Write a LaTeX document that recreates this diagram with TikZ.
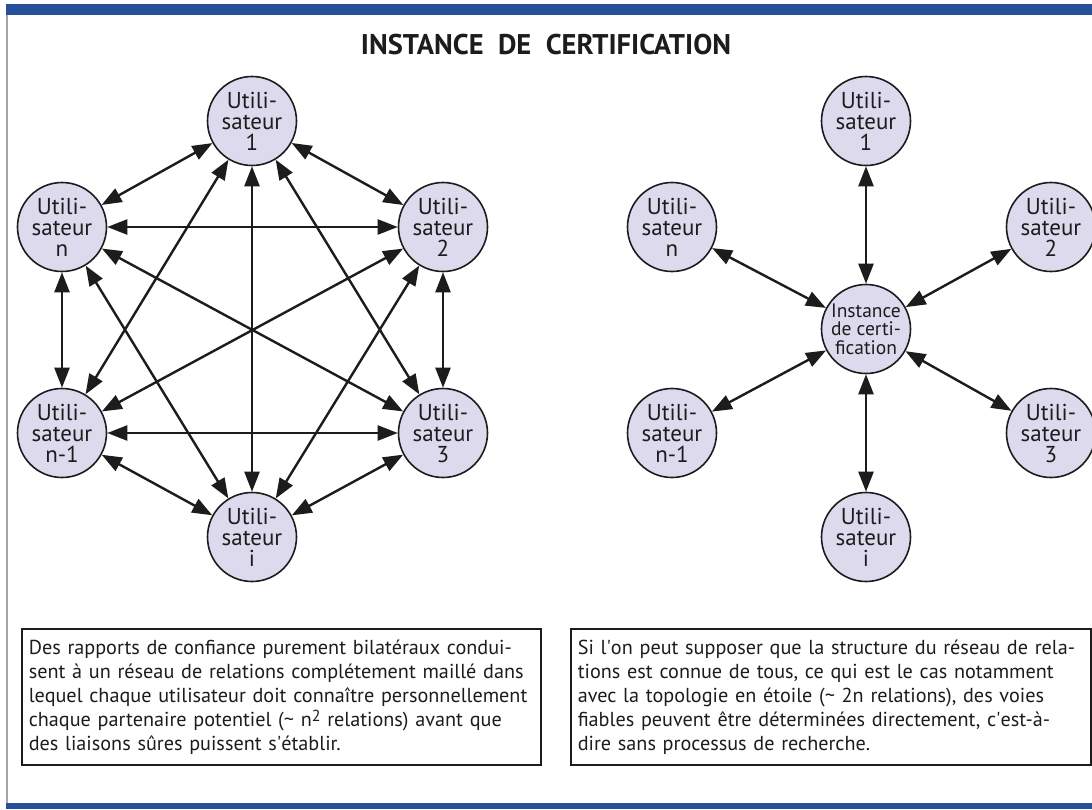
\documentclass[tikz,border=0pt]{standalone}
\usepackage{fontspec}
\setmainfont{PT Sans}
\usetikzlibrary{arrows.meta}
\definecolor{bandblue}{HTML}{27509B}
\definecolor{nodefill}{HTML}{DDDAEE}
\definecolor{ink}{HTML}{1C1C1C}
\newcommand{\sqt}{\textquotesingle}
\tikzset{
  user/.style={circle, draw=ink, line width=1.6pt, fill=nodefill, minimum size=89pt, inner sep=0pt, align=center, text=ink,
    font=\fontsize{23}{21}\selectfont},
  hub/.style={user, font=\fontsize{19.5}{18.5}\selectfont},
  link/.style={line width=2.4pt, draw=ink, {Triangle[length=20pt,width=15pt]}-{Triangle[length=20pt,width=15pt]}},
  textbox/.style={draw=ink, line width=1.6pt, anchor=north west, align=left, inner xsep=7pt, inner ysep=7pt,
    text=ink, font=\fontsize{20.2}{24}\selectfont}
}
\begin{document}
\begin{tikzpicture}[x=1pt,y=-1pt]
\useasboundingbox (0,0) rectangle (1092,809);
\fill[white] (0,0) rectangle (1092,809);
% bands and border
\fill[bandblue] (6,4) rectangle (1092,15);
\fill[bandblue] (6,803) rectangle (1092,809);
\draw[gray!70, line width=1.5pt] (7,15) -- (7,803);
% title
\node[font=\fontsize{28.5}{30}\bfseries, text=ink] (title) at (546,45) {INSTANCE\ \ DE\ \ CERTIFICATION};
% left mesh
\node[user] (a1) at (252,121) {Utili-\\sateur\\1};
\node[user] (an) at (62,227) {Utili-\\sateur\\n};
\node[user] (a2) at (443,227) {Utili-\\sateur\\2};
\node[user] (am) at (62,433) {Utili-\\sateur\\n-1};
\node[user] (a3) at (443,433) {Utili-\\sateur\\3};
\node[user] (ai) at (252,537) {Utili-\\sateur\\i};
\foreach \s/\t in {a1/an,a1/a2,a1/am,a1/a3,a1/ai,an/a2,an/am,an/a3,an/ai,a2/am,a2/a3,a2/ai,am/a3,am/ai,a3/ai}
  \draw[link] (\s) -- (\t);
% right star
\node[hub] (c) at (866,329) {Instance\\de certi-\\fication};
\node[user] (b1) at (866,121) {Utili-\\sateur\\1};
\node[user] (bn) at (672,227) {Utili-\\sateur\\n};
\node[user] (b2) at (1051,227) {Utili-\\sateur\\2};
\node[user] (bm) at (672,433) {Utili-\\sateur\\n-1};
\node[user] (b3) at (1051,433) {Utili-\\sateur\\3};
\node[user] (bi) at (866,537) {Utili-\\sateur\\i};
\foreach \t in {b1,bn,b2,bm,b3,bi}
  \draw[link] (c) -- (\t);
% text boxes
\node[textbox, text width=505pt, minimum height=136pt] (lbox) at (21,628) {Des rapports de confiance purement bilatéraux condui-\\sent à un réseau de relations complétement maillé dans\\lequel chaque utilisateur doit connaître personnellement\\chaque partenaire potentiel (\textasciitilde\ n\raisebox{0.42ex}{\fontsize{16}{16}\selectfont 2} relations) avant que\\des liaisons sûres puissent s\sqt établir.};
\node[textbox, text width=506pt, minimum height=136pt] (rbox) at (570,628) {Si l\sqt on peut supposer que la structure du réseau de rela-\\tions est connue de tous, ce qui est le cas notamment\\avec la topologie en étoile (\textasciitilde\ 2n relations), des voies\\fiables peuvent être déterminées directement, c\sqt est-à-\\dire sans processus de recherche.};
\end{tikzpicture}
\end{document}
